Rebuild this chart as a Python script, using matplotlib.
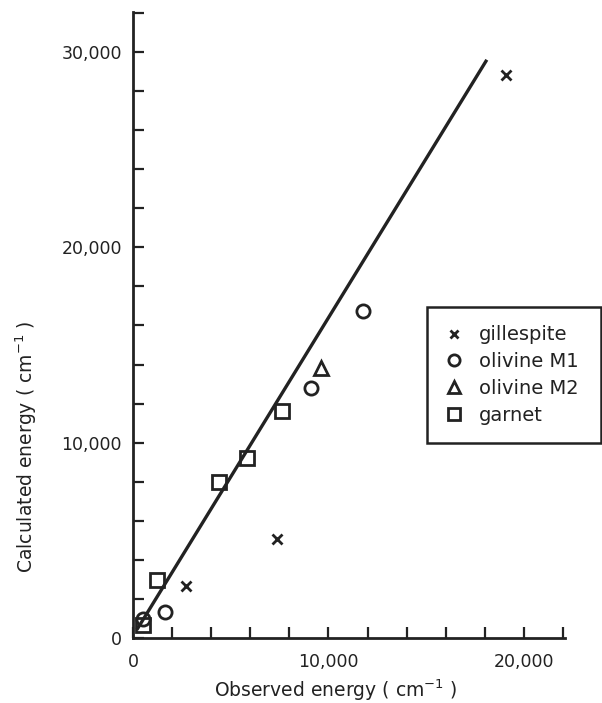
import matplotlib
matplotlib.use("Agg")
import matplotlib.pyplot as plt
import numpy as np

# ---- data ----
gillespite_x = [19100, 7350, 2730]
gillespite_y = [28800, 5050, 2660]
olivine_m1_x = [11780, 9100, 1640, 530]
olivine_m1_y = [16760, 12790, 1350, 960]
olivine_m2_x = [9600]
olivine_m2_y = [13810]
garnet_x = [7600, 5850, 4400, 1220, 530]
garnet_y = [11620, 9230, 8000, 2970, 690]
fit_x = [200, 18100]
fit_slope = 1.63
fit_intercept = 100
x_ticks = [0, 10000, 20000]
y_ticks = [0, 10000, 20000, 30000]
x_tick_labels = ["0", "10,000", "20,000"]
y_tick_labels = ["0", "10,000", "20,000", "30,000"]

W, H = 602, 703
fig = plt.figure(figsize=(W / 100, H / 100), dpi=100)
ax = fig.add_axes([133 / W, (H - 638) / H, (565 - 133) / W, (638 - 12) / H])

ink = "#222222"
fx = np.array(fit_x, dtype=float)
ax.plot(fx, fit_slope * fx + fit_intercept, color=ink, lw=2.4, solid_capstyle="butt", zorder=2)

mk = dict(linestyle="none", color=ink, markerfacecolor="none", markeredgewidth=2.0, zorder=3)
ax.plot(gillespite_x, gillespite_y, marker="x", markersize=7, label="gillespite", **mk)
ax.plot(olivine_m1_x, olivine_m1_y, marker="o", markersize=9.5, label="olivine M1", **mk)
ax.plot(olivine_m2_x, olivine_m2_y, marker="^", markersize=10, label="olivine M2", **mk)
ax.plot(garnet_x, garnet_y, marker="s", markersize=9.5, label="garnet", **mk)

ax.set_xlim(0, 22100)
ax.set_ylim(0, 32050)
for s in ("top", "right"):
    ax.spines[s].set_visible(False)
for s in ("left", "bottom"):
    ax.spines[s].set_linewidth(2.0)
    ax.spines[s].set_color(ink)

ax.set_xticks(np.arange(0, 22001, 2000))
ax.set_yticks(np.arange(0, 32001, 2000))
ax.set_xticklabels([x_tick_labels[x_ticks.index(v)] if v in x_ticks else "" for v in range(0, 22001, 2000)])
ax.set_yticklabels([y_tick_labels[y_ticks.index(v)] if v in y_ticks else "" for v in range(0, 32001, 2000)])
ax.tick_params(direction="in", length=8, width=1.6, color=ink, labelsize=12.5, labelcolor=ink)
ax.tick_params(axis="x", pad=11)
ax.tick_params(axis="y", pad=8)

fig.text(336 / W, 1 - 690 / H, r"Observed energy ( cm$^{-1}$ )", ha="center", va="center",
         fontsize=13.5, color=ink)
fig.text(26 / W, 1 - 447 / H, r"Calculated energy ( cm$^{-1}$ )", ha="center", va="center",
         rotation=90, fontsize=13.5, color=ink)

leg = fig.legend(loc="upper left", bbox_to_anchor=(427 / W, 1 - 307 / H, (601 - 427) / W, 0),
                 bbox_transform=fig.transFigure, mode="expand", borderaxespad=0,
                 fancybox=False, framealpha=1, edgecolor=ink, fontsize=14,
                 handlelength=0.9, handletextpad=0.8, labelspacing=0.4, borderpad=0.95,
                 markerscale=0.85)
leg.get_frame().set_linewidth(1.8)
for t in leg.get_texts():
    t.set_color(ink)

fig.savefig("out.png", dpi=100)
